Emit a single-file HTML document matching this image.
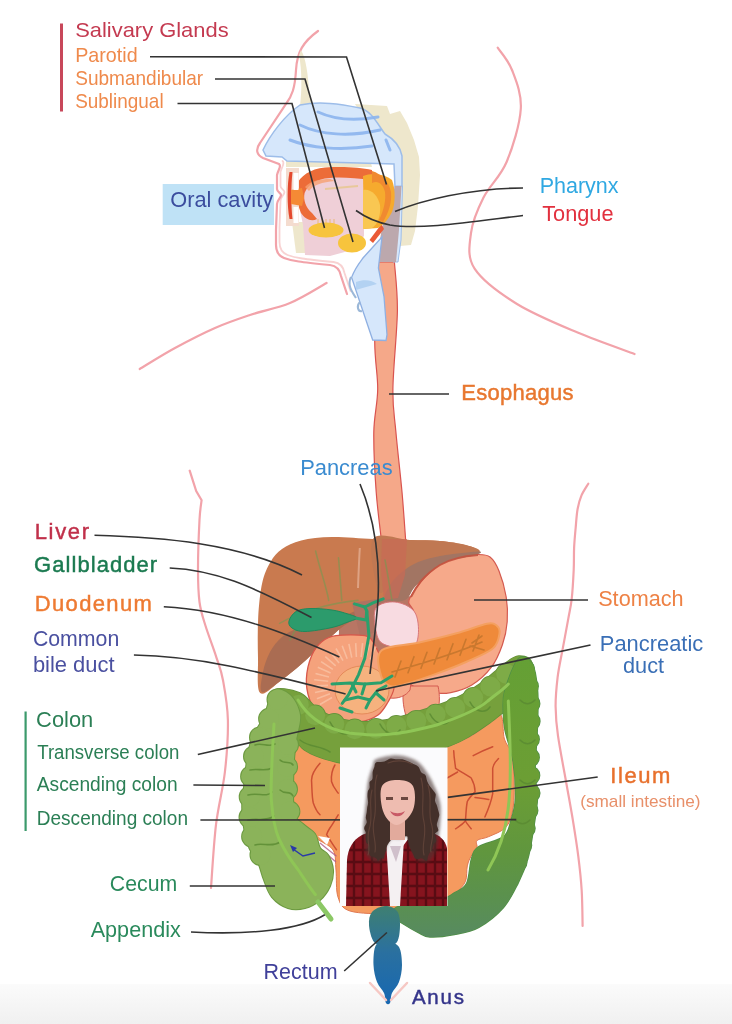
<!DOCTYPE html>
<html><head><meta charset="utf-8"><title>Digestive system</title>
<style>
html,body{margin:0;padding:0;background:#fff;width:732px;height:1024px;overflow:hidden}
svg{display:block;filter:blur(0.35px)}
text{font-family:"Liberation Sans",sans-serif}
</style></head>
<body>
<svg width="732" height="1024" viewBox="0 0 732 1024">
<defs>
<linearGradient id="bg" x1="0" y1="0" x2="0" y2="1">
<stop offset="0" stop-color="#fbfbfb"/><stop offset="1" stop-color="#f0f0f0"/>
</linearGradient>
<linearGradient id="rect" x1="0" y1="905" x2="0" y2="1000" gradientUnits="userSpaceOnUse">
<stop offset="0" stop-color="#3f8070"/><stop offset="0.5" stop-color="#2a70a0"/><stop offset="1" stop-color="#1868b0"/>
</linearGradient>
<linearGradient id="desc" x1="0" y1="650" x2="0" y2="940" gradientUnits="userSpaceOnUse">
<stop offset="0" stop-color="#64a035"/><stop offset="0.45" stop-color="#6c9e34"/><stop offset="0.7" stop-color="#60963e"/><stop offset="0.87" stop-color="#5a9050"/><stop offset="1" stop-color="#578a62"/>
</linearGradient>
<filter id="hb" x="-20%" y="-20%" width="140%" height="140%"><feGaussianBlur stdDeviation="1.6"/></filter>
</defs>
<rect x="0" y="0" width="732" height="1024" fill="#fff"/>
<rect x="0" y="984" width="732" height="40" fill="url(#bg)"/>
<g fill="none" stroke="#f2a3aa" stroke-width="2.2" stroke-linecap="round"><path  d="M497.7,47.7 C500.1,51.4 508.1,59.8 512.0,70.0 C515.9,80.2 521.7,93.5 520.8,108.8 C519.9,124.1 512.8,147.2 506.6,162.0 C500.4,176.8 489.4,185.8 483.5,197.6 C477.6,209.4 472.5,221.2 471.0,233.0 C469.5,244.8 466.9,256.9 474.6,268.7 C482.3,280.5 499.8,293.4 517.0,304.0 C534.2,314.6 558.0,324.3 577.6,332.6 C597.2,340.9 625.0,350.4 634.5,354.0"/><path  d="M189.7,470.7 C190.8,474.1 195.1,487.6 196.2,491.0 L201.6,500.2 C201.2,503.5 200.1,508.5 199.5,520.0 C198.9,531.5 198.0,555.3 198.0,569.0 C198.0,582.7 198.3,592.6 199.5,602.0 C200.7,611.4 202.6,616.4 205.4,625.5 C208.2,634.6 213.3,647.7 216.2,656.8 C219.1,665.9 221.1,669.7 223.0,680.2 C224.9,690.7 227.6,704.7 227.9,720.0 C228.2,735.3 226.9,754.5 224.9,772.0 C222.9,789.5 218.3,805.4 216.0,824.7 C213.7,844.0 211.8,877.5 211.0,888.0"/><path  d="M588.3,483.7 C587.2,485.6 583.3,491.2 581.5,495.4 C579.7,499.6 578.6,503.5 577.6,509.0 C576.6,514.5 576.2,522.0 575.6,528.5 C575.0,535.0 574.4,541.1 574.1,548.0 C573.8,554.9 574.1,561.5 573.7,570.0 C573.3,578.5 572.6,590.9 571.7,599.0 C570.8,607.1 569.8,610.1 568.3,618.6 C566.8,627.1 564.3,640.1 562.5,649.9 C560.7,659.7 558.8,667.8 557.6,677.3 C556.5,686.8 555.5,696.8 555.6,706.6 C555.7,716.4 556.1,722.8 558.0,735.9 C559.9,749.0 564.2,771.1 566.7,785.2 C569.2,799.3 571.0,808.7 572.9,820.4 C574.8,832.1 576.7,843.9 578.2,855.6 C579.7,867.3 581.0,879.1 581.7,890.8 C582.4,902.5 582.5,920.1 582.6,926.0"/><path  d="M326.6,283.0 C320.5,286.3 302.8,297.7 290.0,303.0 C277.2,308.3 262.5,310.8 250.0,315.0 C237.5,319.2 227.5,322.5 215.0,328.0 C202.5,333.5 187.6,341.2 175.0,348.0 C162.4,354.8 145.6,365.5 139.7,369.0"/></g>
<g id="head"><g fill="none" stroke-linecap="round"><path d="M279,164 C282,166 278,170 277,175 L277,189 C277,192 281,193 281,195 C281,198 277,200 277,204 L276,230 L276,245 C276,252 279,256 284,258 C292,261 300,262 330,265 C337,266 340,270 341,276 L347,294" stroke="#f8d2d2" stroke-width="1.8" transform="translate(3.5,-3)"/><path d="M318,31 C303,42 297,52 296,70 C295,88 292,96 286,104 L260,143 C255,150 257,155 263,158 L279,164 C282,166 278,170 277,175 L277,189 C277,192 281,193 281,195 C281,198 277,200 277,204 L276,230 L276,245 C276,252 279,256 284,258 C292,261 300,262 330,265 C337,266 340,270 341,276 L347,294" stroke="#f2a3aa" stroke-width="2.2"/></g><path fill="#eee7cc" d="M301,50 C306,58 308,75 309,90 L312,104 L300,106 C302,90 302,70 299,55 Z"/><path fill="#eee7cc" d="M355,104 L387,106 L390,114 L400,111 L407,123 L414,140 L419,157 L420,175 L418,206 L415,231 L411,245 L400,246 L398,200 L395,160 L380,130 L360,112 Z"/><path fill="#eee7cc" d="M286,159 L370,159 L372,167 L286,167 Z"/><path fill="#eee7cc" d="M292,222 L305,222 L306,253 L296,253 Z"/><path fill="#d6e7fb" stroke="#9dbde9" stroke-width="1.5" d="M263,150 C270,135 285,115 300,105 C320,101 340,104 360,108 C372,111 378,125 385,134 C392,138 400,145 402,156 L402,187 L395,187 L394,164 L287,161 L282,157 L266,156 Z"/><g fill="none" stroke="#8cb5ee" stroke-width="3" stroke-linecap="round" opacity="0.9"><path  d="M318,112 C335,120 355,121 378,117"/><path  d="M300,125 C320,135 350,137 380,130"/><path  d="M290,140 C310,148 340,151 372,146"/><path  d="M386,140 L390,150"/></g><path fill="#efcfd7" d="M300,180 C315,172 340,174 364,176 L364,236 L352,250 L330,256 L305,255 L303,225 L300,210 Z"/><path fill="#f5a889" stroke="#d9534f" stroke-width="1.2" d="M377.0,262.0 C376.6,275.2 374.6,319.8 374.7,341.0 C374.8,362.2 377.8,373.8 377.7,389.0 C377.6,404.2 374.1,414.8 373.8,432.0 C373.6,449.2 374.8,473.2 376.2,492.0 C377.6,510.8 381.0,536.2 382.0,545.0 L406.0,545.0 C405.3,536.2 403.7,510.8 402.0,492.0 C400.3,473.2 397.4,449.2 395.9,432.0 C394.4,414.8 392.6,409.2 392.9,389.0 C393.1,368.8 397.1,332.2 397.4,311.0 C397.6,289.8 394.9,270.2 394.4,262.0 Z"/><path fill="#d6e7fb" stroke="#9dbde9" stroke-width="1" d="M395,186 L402.5,186 L401,240 L398,262 L393,262 Z"/><path fill="#bca8ad" d="M395,186 L401.5,186 L399,230 L396,262 L377,262 L379,245 L382,228 L389,206 Z"/><path fill="#d6e7fb" stroke="#8fb0e2" stroke-width="1.3" d="M382,237 L378.4,268 L384,296.5 L387,334.7 L386,340.5 L372.7,340 L351.6,277.4 C355,268 360,262 363,258 Z"/><path fill="none" stroke="#9cb8d8" stroke-width="2" d="M351,277 C347,285 352,292 356,298 M360,302 C356,306 358,312 362,311"/><path fill="#b3d2f2" d="M356,282 C364,279 372,280 377,284 C370,286 362,288 356,290 Z"/><path fill="#ea5a36" d="M381.5,224 L384,229 L373,243 L369.5,240 Z"/><path fill="#ec6c38" d="M296,186 C300,176 310,169 325,167.5 C345,166.5 360,167.5 372,170 L372,180 C355,178 340,177 330,178 C315,179 308,185 304.6,193 C303,200 306,208 312,213 L317,219 C311,222 305,219 301,213 C297,204 295.5,195 296,186 Z"/><path fill="#f6a070" opacity="0.8" d="M305,187 C310,181 320,179 330,179 L335,181 C322,182 313,185 309,191 Z"/><path fill="#f6aa2e" d="M363,176 C372,172 385,174 392,180 C396,190 395,205 392,212 C388,220 383,225 378,228 L364,229 Z"/><path fill="#f9c752" d="M363,190 C370,188 378,195 380,205 C381,215 378,224 372,228 L363,229 Z"/><path fill="#f08a30" d="M372,171 C382,174 389,182 391,192 C392,202 389,212 383,222 L379,220 C384,210 386,200 385,192 C383,184 378,180 372,183 Z"/><path fill="#f4dccf" d="M286,168 L299,168 L299,226 L286,226 Z"/><path fill="#e4492e" d="M289.5,172 C287,185 287,205 289.5,219 L292.5,219 C291,205 291,185 292.5,172 Z"/><path fill="#f58a35" d="M291,190 L302,188 L304,198 L302,206 L291,204 Z"/><path fill="#fff" d="M293.5,173 L298.5,173 L298.5,190 L293.5,190 Z M293.5,207 L298.5,207 L298.5,223 L293.5,223 Z"/><path fill="none" stroke="#e9b87a" stroke-width="1" d="M318,219 L318,224 M322,219 L322,224 M326,219 L326,224 M330,219 L330,224 M334,219 L334,224"/><ellipse cx="326" cy="230" rx="17.5" ry="7.5" fill="#f7c43d"/><ellipse cx="352" cy="243" rx="14" ry="9.5" fill="#f7c43d"/><path fill="none" stroke="#e8c89a" stroke-width="2" d="M325,189 L358,186"/></g>
<g id="abdomen"><path fill="#b87664" d="M340,598 L418,596 L418,660 L338,662 Z"/><path fill="#f6a98a" stroke="#d45a50" stroke-width="1.2" d="M416.0,588.0 C418.1,585.2 420.1,582.3 423.3,579.0 C426.5,575.7 431.1,571.0 435.0,568.0 C438.9,565.0 442.5,562.9 447.0,561.0 C451.5,559.1 457.1,557.6 462.0,556.5 C466.9,555.4 471.9,554.4 476.6,554.5 C481.3,554.6 486.3,554.2 490.0,557.0 C493.7,559.8 496.3,564.3 499.0,571.0 C501.7,577.7 504.8,588.5 506.2,597.0 C507.6,605.5 507.8,613.8 507.2,621.8 C506.6,629.8 505.1,637.1 502.4,644.7 C499.7,652.4 496.1,661.0 491.0,667.7 C485.9,674.4 478.5,680.9 471.8,685.0 C465.1,689.1 457.2,691.3 450.8,692.6 C444.4,693.9 438.9,693.6 433.5,693.0 C428.1,692.4 422.9,691.2 418.2,689.0 C413.4,686.8 408.9,684.0 405.0,680.0 C401.1,676.0 397.2,670.0 395.0,665.0 C392.8,660.0 390.8,654.2 392.0,650.0 C393.2,645.8 398.3,643.7 402.0,640.0 C405.7,636.3 412.0,632.7 414.0,628.0 C416.0,623.3 414.9,616.2 414.0,612.0 C413.1,607.8 409.2,605.4 408.7,602.7 C408.2,600.0 409.8,598.5 411.0,596.0 C412.2,593.5 413.9,590.8 416.0,588.0Z"/><path fill="#f4a585" stroke="#d45a50" stroke-width="1" d="M404,686 L438,686 C440,695 440,705 437,714 L406,716 C403,706 402,696 404,686 Z"/><path fill="#c97a4f" d="M260.2,693.0 C256.4,689.2 258.3,670.6 258.0,658.0 C257.7,645.4 257.5,629.8 258.2,617.2 C258.9,604.6 260.2,591.6 262.3,582.4 C264.4,573.2 267.2,567.5 270.5,561.9 C273.8,556.3 276.9,552.6 282.0,549.0 C287.1,545.4 292.9,542.4 301.2,540.4 C309.5,538.4 320.0,537.2 332.0,537.0 C344.0,536.8 360.0,538.5 373.0,539.0 C386.0,539.5 398.8,539.7 410.0,540.0 C421.2,540.3 430.7,540.1 440.0,541.0 C449.3,541.9 459.4,543.6 466.0,545.3 C472.6,547.0 480.3,549.2 479.4,551.0 C478.4,552.8 467.3,553.8 460.3,556.0 C453.3,558.2 443.4,560.8 437.4,564.0 C431.3,567.2 428.1,571.0 424.0,575.0 C419.9,579.0 416.5,583.8 412.5,588.0 C408.5,592.2 407.1,596.0 400.0,600.0 C392.9,604.0 379.2,607.8 370.0,612.0 C360.8,616.2 353.0,619.5 345.0,625.0 C337.0,630.5 329.3,638.5 322.0,645.0 C314.7,651.5 308.1,658.3 301.2,664.3 C294.3,670.2 287.5,675.9 280.7,680.7 C273.9,685.5 264.0,696.8 260.2,693.0Z"/><path fill="#aa6c52" d="M262.0,692.0 C259.1,690.5 261.7,678.7 263.0,672.0 C264.3,665.3 266.8,657.8 270.0,652.0 C273.2,646.2 277.3,641.0 282.0,637.0 C286.7,633.0 291.7,630.5 298.0,628.0 C304.3,625.5 312.2,624.2 320.0,622.0 C327.8,619.8 336.7,617.8 345.0,615.0 C353.3,612.2 360.8,608.8 370.0,605.0 C379.2,601.2 391.0,597.0 400.0,592.0 C409.0,587.0 421.9,575.7 424.0,575.0 C426.1,574.3 416.5,583.8 412.5,588.0 C408.5,592.2 407.1,596.0 400.0,600.0 C392.9,604.0 379.2,607.8 370.0,612.0 C360.8,616.2 353.0,619.5 345.0,625.0 C337.0,630.5 329.3,638.5 322.0,645.0 C314.7,651.5 308.1,658.3 301.2,664.3 C294.3,670.2 287.2,676.1 280.7,680.7 C274.2,685.3 264.9,693.5 262.0,692.0Z"/><path fill="#c07852" d="M373.0,539.0 C378.3,530.7 398.8,539.7 410.0,540.0 C421.2,540.3 430.7,540.2 440.0,541.0 C449.3,541.8 459.3,543.2 466.0,545.0 C472.7,546.8 480.7,550.3 480.0,551.6 C479.3,552.9 468.7,552.3 462.0,553.0 C455.3,553.7 447.3,554.5 440.0,556.0 C432.7,557.5 424.3,559.3 418.0,562.0 C411.7,564.7 406.7,568.2 402.0,572.0 C397.3,575.8 394.0,582.0 390.0,585.0 C386.0,588.0 380.8,597.7 378.0,590.0 C375.2,582.3 367.7,547.3 373.0,539.0Z"/><path fill="#a27563" d="M480.0,551.6 C477.7,551.3 468.7,552.3 462.0,553.0 C455.3,553.7 447.3,554.5 440.0,556.0 C432.7,557.5 424.3,559.3 418.0,562.0 C411.7,564.7 406.7,568.2 402.0,572.0 C397.3,575.8 392.8,580.3 390.0,585.0 C387.2,589.7 382.5,597.5 385.0,600.0 C387.5,602.5 400.2,602.0 405.0,600.0 C409.8,598.0 411.0,591.5 414.0,588.0 C417.0,584.5 419.5,582.3 423.0,579.0 C426.5,575.7 430.5,571.1 435.0,568.0 C439.5,564.9 443.2,562.7 450.0,560.5 C456.8,558.3 471.0,556.5 476.0,555.0 C481.0,553.5 482.3,551.9 480.0,551.6Z"/><path fill="#c96a56" opacity="0.7" d="M382,539 L407,539 L405,575 L398,598 L384,600 L381,570 Z"/><path fill="none" stroke="#c4523e" stroke-width="2" opacity="0.9" d="M478,555 C465,556 450,559 440,565 C432,570 426,575 421,581 C417,586 414,591 411,597"/><g fill="none" stroke="#6f9c52" stroke-width="1.6" opacity="0.55" stroke-linecap="round"><path  d="M315.6,551 C320,570 326,585 328.7,600.4"/><path  d="M338.5,557.8 C340,575 341,590 341.8,600.4"/><path  d="M279.5,623.4 C300,612 330,603 358,600.4"/><path  d="M290,640 C295,630 300,622 306,615"/><path  d="M385,560 C388,575 390,590 392,600"/></g><path fill="none" stroke="#e4ac90" stroke-width="2" opacity="0.8" d="M359.8,548 C359,562 358.5,574 358,588"/><path fill="#b07262" d="M352,603 L383,598 L395,605 L378,632 L360,636 Z"/><path fill="#f8dbe1" stroke="#d9787a" stroke-width="1" d="M376.0,608.0 C379.2,603.2 388.6,601.4 395.0,602.0 C401.4,602.6 410.6,606.3 414.5,611.8 C418.4,617.3 418.9,628.8 418.3,634.8 C417.7,640.8 416.4,646.4 410.7,648.0 C405.0,649.6 389.8,647.1 384.0,644.3 C378.2,641.5 377.3,637.0 376.0,631.0 C374.7,625.0 372.8,612.8 376.0,608.0Z"/><path fill="#f6a98a" stroke="#d45a50" stroke-width="1" d="M378,676 L412,676 L410,690 C406,696 398,699 390,698 C384,696 380,690 378,684 Z"/><path fill="#f5a27c" stroke="#d8574a" stroke-width="1.3" d="M364.8,635.7 C358.6,634.7 343.2,634.7 336.0,635.7 C328.8,636.7 325.8,638.4 321.7,641.8 C317.6,645.2 314.1,649.9 311.5,656.0 C308.9,662.1 306.8,671.5 306.4,678.7 C306.0,685.9 307.5,693.2 309.4,699.0 C311.3,704.8 313.3,709.7 317.6,713.5 C321.9,717.3 327.9,720.6 335.0,722.0 C342.1,723.4 352.8,723.2 360.0,722.0 C367.2,720.8 373.3,718.3 378.0,715.0 C382.7,711.7 385.3,706.5 388.0,702.0 C390.7,697.5 393.3,693.3 394.0,688.0 C394.7,682.7 394.3,675.5 392.0,670.0 C389.7,664.5 383.2,659.7 380.0,655.0 C376.8,650.3 375.5,645.0 373.0,641.8 C370.5,638.6 371.0,636.7 364.8,635.7Z"/><path fill="none" stroke="#f9c3a5" stroke-width="1.6" opacity="0.8" d="M332.0,697.5 L319.9,704.5 M330.0,693.7 L316.9,698.7 M328.7,689.6 L315.0,692.5 M328.0,685.4 L314.1,686.1 M328.2,681.2 L314.2,679.7 M329.0,677.0 L315.5,673.4 M330.6,673.0 L317.8,667.3 M332.8,669.3 L321.1,661.7 M335.7,665.9 L325.3,656.6 M339.1,663.0 L330.3,652.1 M343.0,660.6 L336.0,648.5 M347.2,658.8 L342.2,645.7 M351.8,657.6 L348.9,643.9 M356.4,657.0 L355.7,643.1 M361.1,657.1 L362.6,643.2 M365.8,657.9 L369.4,644.4 M370.2,659.3 L375.9,646.5"/><ellipse cx="362" cy="690" rx="27" ry="24" fill="#f6b27e" stroke="#e58a5a" stroke-width="1"/><path fill="#ef8a3a" stroke="#f4a060" stroke-width="2" d="M382.0,650.0 C388.4,645.1 405.8,645.6 418.2,642.8 C430.6,640.0 445.0,636.5 456.5,633.3 C468.0,630.1 480.3,625.0 487.0,623.7 C493.7,622.4 494.6,624.0 496.7,625.6 C498.8,627.2 500.1,629.5 499.5,633.3 C498.9,637.1 498.4,643.8 492.8,648.6 C487.2,653.4 475.2,657.9 466.0,662.0 C456.8,666.1 446.9,669.9 437.4,673.4 C427.8,676.9 416.7,680.9 408.7,683.0 C400.7,685.1 394.4,687.8 389.6,686.0 C384.8,684.2 381.3,678.0 380.0,672.0 C378.7,666.0 375.6,654.9 382.0,650.0Z"/><path fill="none" stroke="#c4762e" stroke-width="1.6" opacity="0.9" stroke-linecap="round" d="M392,672 C420,664 450,656 482,642 M470,646 L484,650 M472,643 L482,636 M395.0,677.0 L401.0,661.0 M408.0,672.7 L414.0,656.7 M421.0,668.3 L427.0,652.3 M434.0,664.0 L440.0,648.0 M447.0,659.7 L453.0,643.7 M460.0,655.3 L466.0,639.3 M473.0,651.0 L479.0,635.0"/><path fill="#2c9b6c" stroke="#1f8a5c" stroke-width="1" d="M289.0,621.0 C289.7,618.2 292.5,613.6 296.0,611.5 C299.5,609.4 304.0,608.8 310.0,608.5 C316.0,608.2 325.7,609.1 332.0,610.0 C338.3,610.9 343.8,612.7 348.0,614.0 C352.2,615.3 357.0,616.7 357.0,618.0 C357.0,619.3 352.2,620.4 348.0,622.0 C343.8,623.6 339.2,625.9 332.0,627.5 C324.8,629.1 311.7,631.4 305.0,631.5 C298.3,631.6 294.7,629.8 292.0,628.0 C289.3,626.2 288.3,623.8 289.0,621.0Z"/><g fill="none" stroke="#2aa06c" stroke-width="3" stroke-linecap="round" stroke-linejoin="round"><path  d="M354.5,603.9 L364.8,607 L373,602.9 L383.2,598.8"/><path  d="M356.6,618.2 L366,620 L366.8,611 L364.8,607"/><path  d="M366.8,611 L368.9,635.7 L364.8,658.2 L358.6,674.6 L348.4,695 L342.2,703.3"/><path  d="M332,684 L350,683 L365,684 L381,682.8 L392,676"/><path  d="M345,700 L358,697 L370,700 L378,690 L386,686"/><path  d="M352,684 L356,692 M365,684 L362,694 M370,700 L366,708 M376,693 L384,700 M340,708 L352,712"/></g></g>
<g id="intestines"><path fill="#f59a5f" stroke="#e07850" stroke-width="1" d="M296.0,745.0 C302.8,742.7 322.0,753.5 334.0,756.0 C346.0,758.5 353.7,760.7 368.0,760.0 C382.3,759.3 406.8,754.5 420.0,752.0 C433.2,749.5 438.8,747.5 447.0,745.0 C455.2,742.5 462.3,740.6 469.3,737.0 C476.3,733.4 483.9,727.3 488.8,723.4 C493.7,719.5 496.2,714.4 498.5,713.7 C500.8,713.1 501.4,715.3 502.4,719.5 C503.4,723.7 502.8,733.1 504.4,739.0 C506.0,744.9 510.6,748.1 512.2,754.6 C513.8,761.1 513.9,769.2 514.1,778.0 C514.3,786.8 514.5,799.2 513.2,807.3 C511.9,815.4 510.4,821.9 506.3,826.8 C502.2,831.7 493.7,834.3 488.8,836.6 C483.9,838.9 479.0,838.5 477.0,840.5 C475.0,842.5 478.0,845.7 477.0,848.3 C476.0,850.9 472.8,853.1 471.2,856.0 C469.6,858.9 468.3,861.6 467.3,865.9 C466.3,870.1 467.3,877.0 465.4,881.5 C463.4,886.0 459.8,889.3 455.6,893.2 C451.4,897.1 445.9,901.9 440.0,905.0 C434.1,908.1 428.3,910.5 420.0,912.0 C411.7,913.5 401.7,914.2 390.0,914.0 C378.3,913.8 358.7,913.8 350.0,911.0 C341.3,908.2 340.3,903.8 338.0,897.0 C335.7,890.2 336.8,877.8 336.0,870.0 C335.2,862.2 336.3,855.3 333.0,850.0 C329.7,844.7 321.0,842.3 316.0,838.0 C311.0,833.7 307.0,828.4 303.2,824.0 C299.4,819.6 295.0,820.7 293.4,811.7 C291.8,802.7 293.0,781.1 293.4,770.0 C293.8,758.9 289.2,747.3 296.0,745.0Z"/><g fill="none" stroke="#c9472f" stroke-width="1.5" opacity="0.9" stroke-linecap="round" stroke-linejoin="round"><path  d="M320,763.3 C314,770 311,776 311.6,781.5 C312,790 312,798 313.3,803 C315,808 317,812 320,814.8"/><path  d="M334.9,765 C332,770 331,776 331.5,781.5 C333,787 336,790 338.2,793.2"/><path  d="M338.2,814.8 C335,820 332,825 329.9,828 C328,831 327,833 326.6,834.7 C330,840 333,845 336.5,849.7"/><path  d="M473.2,755.6 C480,752 487,749 492.7,746.8"/><path  d="M498.5,758.5 C495,762 493,765 492.7,768.3 L492.7,793.7 C491,803 488,810 484.9,817"/><path  d="M453.7,750.7 C454,758 455,763 455.6,768.3 C461,772 467,775 471.2,778 C474,783 475,787 475.1,791.7 C472,795 469,798 467.3,801.5 C466,808 466,815 465.4,821 C462,825 458,827 455.6,828.8"/><path  d="M465.4,821 C467,824 469,826 471.2,828.8"/><path  d="M447,778 C451,776 454,774 457.6,772"/><path  d="M475,797.6 C480,798 485,799 488.8,799.5"/></g><path fill="none" stroke="#b05a8a" stroke-width="1.3" opacity="0.8" d="M320,843 C326,848 331,852 336.5,856.3 M318,847 C325,852 330,857 336,862"/><path fill="#ffffff" d="M318,836 L330,838 L327,845 Z"/><g fill="#76a03c" stroke="#62903a" stroke-width="1.5"><path d="M273.9,691.0 C275.6,686.5 292.2,689.7 300.0,693.0 C307.8,696.3 312.0,706.3 320.5,711.0 C329.0,715.7 340.4,719.5 351.2,721.0 C362.0,722.5 374.0,721.7 385.4,720.0 C396.8,718.3 408.1,714.5 419.5,711.0 C430.9,707.5 443.4,703.7 453.7,699.0 C463.9,694.3 472.8,688.7 481.0,683.0 C489.2,677.3 496.7,669.5 503.0,665.0 C509.3,660.5 513.7,656.2 518.6,656.0 C523.5,655.8 530.3,656.4 532.2,663.7 C534.1,671.0 534.5,692.0 530.0,700.0 C525.5,708.0 511.4,707.9 505.0,711.5 C498.6,715.1 497.0,717.7 491.3,721.7 C485.6,725.7 477.6,731.4 470.8,735.4 C464.0,739.4 462.1,741.2 450.3,745.6 C438.5,750.0 413.7,758.9 400.0,762.0 C386.3,765.1 379.0,764.0 368.3,764.0 C357.6,764.0 347.1,764.7 336.0,762.0 C324.9,759.3 309.7,755.0 302.0,748.0 C294.3,741.0 294.7,729.5 290.0,720.0 C285.3,710.5 272.2,695.5 273.9,691.0Z"/><circle cx="280.4" cy="700.3" r="10"/><circle cx="298.8" cy="704.8" r="10"/><circle cx="315.2" cy="715.3" r="10"/><circle cx="334.3" cy="723.8" r="10"/><circle cx="354.7" cy="729.3" r="10"/><circle cx="376.0" cy="728.7" r="10"/><circle cx="396.4" cy="725.8" r="10"/><circle cx="416.3" cy="720.7" r="10"/><circle cx="435.6" cy="714.5" r="10"/><circle cx="455.1" cy="707.8" r="10"/><circle cx="473.2" cy="697.7" r="10"/><circle cx="490.4" cy="686.5" r="10"/><circle cx="506.2" cy="673.7" r="10"/></g><g fill="#76a03c"><path d="M273.9,691.0 C275.6,686.5 292.2,689.7 300.0,693.0 C307.8,696.3 312.0,706.3 320.5,711.0 C329.0,715.7 340.4,719.5 351.2,721.0 C362.0,722.5 374.0,721.7 385.4,720.0 C396.8,718.3 408.1,714.5 419.5,711.0 C430.9,707.5 443.4,703.7 453.7,699.0 C463.9,694.3 472.8,688.7 481.0,683.0 C489.2,677.3 496.7,669.5 503.0,665.0 C509.3,660.5 513.7,656.2 518.6,656.0 C523.5,655.8 530.3,656.4 532.2,663.7 C534.1,671.0 534.5,692.0 530.0,700.0 C525.5,708.0 511.4,707.9 505.0,711.5 C498.6,715.1 497.0,717.7 491.3,721.7 C485.6,725.7 477.6,731.4 470.8,735.4 C464.0,739.4 462.1,741.2 450.3,745.6 C438.5,750.0 413.7,758.9 400.0,762.0 C386.3,765.1 379.0,764.0 368.3,764.0 C357.6,764.0 347.1,764.7 336.0,762.0 C324.9,759.3 309.7,755.0 302.0,748.0 C294.3,741.0 294.7,729.5 290.0,720.0 C285.3,710.5 272.2,695.5 273.9,691.0Z"/></g><g fill="#7eab47"><circle cx="280.4" cy="700.3" r="10"/><circle cx="298.8" cy="704.8" r="10"/><circle cx="315.2" cy="715.3" r="10"/><circle cx="334.3" cy="723.8" r="10"/><circle cx="354.7" cy="729.3" r="10"/><circle cx="376.0" cy="728.7" r="10"/><circle cx="396.4" cy="725.8" r="10"/><circle cx="416.3" cy="720.7" r="10"/><circle cx="435.6" cy="714.5" r="10"/><circle cx="455.1" cy="707.8" r="10"/><circle cx="473.2" cy="697.7" r="10"/><circle cx="490.4" cy="686.5" r="10"/><circle cx="506.2" cy="673.7" r="10"/></g><g fill="url(#desc)" stroke="#4f8f45" stroke-width="1.5"><path d="M518.6,658.5 C523.1,654.1 529.1,658.5 532.2,663.7 C535.4,669.0 536.6,679.9 537.5,690.0 C538.4,700.1 537.9,710.5 537.5,724.4 C537.1,738.3 535.0,761.1 535.0,773.3 C535.0,785.5 537.9,787.6 537.5,797.8 C537.1,808.0 534.2,824.2 532.6,834.4 C531.0,844.6 530.2,850.6 527.8,858.8 C525.4,866.9 522.1,875.1 518.0,883.3 C513.9,891.4 509.8,900.4 503.3,907.7 C496.8,915.0 487.0,922.8 478.9,927.3 C470.8,931.8 462.5,933.0 454.4,934.6 C446.2,936.2 436.0,937.4 430.0,937.0 C424.0,936.6 422.9,934.7 418.4,932.5 C413.9,930.3 407.4,926.6 403.0,923.7 C398.6,920.8 392.5,918.0 392.0,915.0 C391.5,912.0 392.0,908.5 400.0,906.0 C408.0,903.5 430.9,902.2 440.0,900.0 C449.1,897.8 449.9,895.8 454.4,893.0 C458.8,890.2 463.8,889.0 466.7,883.3 C469.6,877.6 469.5,864.9 471.5,858.8 C473.5,852.7 473.6,850.2 478.9,846.6 C484.2,843.0 498.0,841.0 503.3,836.9 C508.6,832.8 508.6,828.5 510.6,822.0 C512.6,815.5 515.1,808.0 515.5,797.8 C515.9,787.6 514.8,772.3 513.0,761.0 C511.2,749.7 506.6,738.2 505.0,730.0 C503.4,721.8 503.3,718.2 503.3,711.5 C503.3,704.8 502.4,698.8 505.0,690.0 C507.6,681.2 514.1,662.9 518.6,658.5Z"/><circle cx="525.3" cy="669.1" r="9"/><circle cx="529.2" cy="686.3" r="9"/><circle cx="530.7" cy="703.7" r="9"/><circle cx="530.9" cy="721.3" r="9"/><circle cx="530.2" cy="739.3" r="9"/><circle cx="530.2" cy="757.5" r="9"/><circle cx="530.6" cy="775.5" r="9"/><circle cx="530.8" cy="793.1" r="9"/><circle cx="528.7" cy="810.6" r="9"/><circle cx="526.0" cy="828.2" r="9"/><circle cx="522.5" cy="845.5" r="9"/><circle cx="517.7" cy="862.7" r="9"/></g><g fill="url(#desc)"><path d="M518.6,658.5 C523.1,654.1 529.1,658.5 532.2,663.7 C535.4,669.0 536.6,679.9 537.5,690.0 C538.4,700.1 537.9,710.5 537.5,724.4 C537.1,738.3 535.0,761.1 535.0,773.3 C535.0,785.5 537.9,787.6 537.5,797.8 C537.1,808.0 534.2,824.2 532.6,834.4 C531.0,844.6 530.2,850.6 527.8,858.8 C525.4,866.9 522.1,875.1 518.0,883.3 C513.9,891.4 509.8,900.4 503.3,907.7 C496.8,915.0 487.0,922.8 478.9,927.3 C470.8,931.8 462.5,933.0 454.4,934.6 C446.2,936.2 436.0,937.4 430.0,937.0 C424.0,936.6 422.9,934.7 418.4,932.5 C413.9,930.3 407.4,926.6 403.0,923.7 C398.6,920.8 392.5,918.0 392.0,915.0 C391.5,912.0 392.0,908.5 400.0,906.0 C408.0,903.5 430.9,902.2 440.0,900.0 C449.1,897.8 449.9,895.8 454.4,893.0 C458.8,890.2 463.8,889.0 466.7,883.3 C469.6,877.6 469.5,864.9 471.5,858.8 C473.5,852.7 473.6,850.2 478.9,846.6 C484.2,843.0 498.0,841.0 503.3,836.9 C508.6,832.8 508.6,828.5 510.6,822.0 C512.6,815.5 515.1,808.0 515.5,797.8 C515.9,787.6 514.8,772.3 513.0,761.0 C511.2,749.7 506.6,738.2 505.0,730.0 C503.4,721.8 503.3,718.2 503.3,711.5 C503.3,704.8 502.4,698.8 505.0,690.0 C507.6,681.2 514.1,662.9 518.6,658.5Z"/><circle cx="525.3" cy="669.1" r="9"/><circle cx="529.2" cy="686.3" r="9"/><circle cx="530.7" cy="703.7" r="9"/><circle cx="530.9" cy="721.3" r="9"/><circle cx="530.2" cy="739.3" r="9"/><circle cx="530.2" cy="757.5" r="9"/><circle cx="530.6" cy="775.5" r="9"/><circle cx="530.8" cy="793.1" r="9"/><circle cx="528.7" cy="810.6" r="9"/><circle cx="526.0" cy="828.2" r="9"/><circle cx="522.5" cy="845.5" r="9"/><circle cx="517.7" cy="862.7" r="9"/></g><g fill="#8bb35a" stroke="#6c9a40" stroke-width="2"><path d="M273.9,691.0 C269.6,694.6 267.6,708.7 264.0,716.6 C260.4,724.5 254.8,731.2 252.0,738.5 C249.2,745.8 248.2,753.2 247.0,760.5 C245.8,767.8 245.4,774.7 244.6,782.4 C243.8,790.1 242.2,798.7 242.2,806.8 C242.2,814.9 243.4,824.3 244.6,831.2 C245.8,838.1 247.3,843.2 249.5,848.3 C251.7,853.4 255.6,856.7 258.0,862.0 C260.4,867.3 261.7,874.2 264.0,880.0 C266.3,885.8 268.0,892.3 272.0,897.0 C276.0,901.7 282.5,906.2 288.0,908.0 C293.5,909.8 299.7,909.3 305.0,908.0 C310.3,906.7 315.8,903.7 320.0,900.0 C324.2,896.3 327.8,891.0 330.0,886.0 C332.2,881.0 333.3,875.2 333.0,870.0 C332.7,864.8 330.2,858.7 328.0,855.0 C325.8,851.3 322.2,851.5 320.0,848.0 C317.8,844.5 317.8,838.0 315.0,834.0 C312.2,830.0 306.5,827.7 303.0,824.0 C299.5,820.3 295.6,821.0 294.0,812.0 C292.4,803.0 293.1,781.8 293.4,770.0 C293.7,758.2 294.9,750.2 296.0,741.0 C297.1,731.8 301.0,722.7 300.0,715.0 C299.0,707.3 294.4,699.0 290.0,695.0 C285.6,691.0 278.2,687.4 273.9,691.0Z"/><circle cx="277.5" cy="699.4" r="10"/><circle cx="269.1" cy="718.8" r="10"/><circle cx="260.0" cy="737.4" r="10"/><circle cx="254.0" cy="756.4" r="10"/><circle cx="251.1" cy="776.4" r="10"/><circle cx="249.7" cy="796.9" r="10"/><circle cx="249.5" cy="817.3" r="10"/><circle cx="252.1" cy="836.6" r="10"/><circle cx="260.5" cy="854.9" r="10"/><circle cx="288.0" cy="744.7" r="10"/><circle cx="287.1" cy="766.8" r="10"/><circle cx="287.0" cy="789.3" r="10"/><circle cx="289.4" cy="811.6" r="10"/></g><g fill="#8bb35a"><path d="M273.9,691.0 C269.6,694.6 267.6,708.7 264.0,716.6 C260.4,724.5 254.8,731.2 252.0,738.5 C249.2,745.8 248.2,753.2 247.0,760.5 C245.8,767.8 245.4,774.7 244.6,782.4 C243.8,790.1 242.2,798.7 242.2,806.8 C242.2,814.9 243.4,824.3 244.6,831.2 C245.8,838.1 247.3,843.2 249.5,848.3 C251.7,853.4 255.6,856.7 258.0,862.0 C260.4,867.3 261.7,874.2 264.0,880.0 C266.3,885.8 268.0,892.3 272.0,897.0 C276.0,901.7 282.5,906.2 288.0,908.0 C293.5,909.8 299.7,909.3 305.0,908.0 C310.3,906.7 315.8,903.7 320.0,900.0 C324.2,896.3 327.8,891.0 330.0,886.0 C332.2,881.0 333.3,875.2 333.0,870.0 C332.7,864.8 330.2,858.7 328.0,855.0 C325.8,851.3 322.2,851.5 320.0,848.0 C317.8,844.5 317.8,838.0 315.0,834.0 C312.2,830.0 306.5,827.7 303.0,824.0 C299.5,820.3 295.6,821.0 294.0,812.0 C292.4,803.0 293.1,781.8 293.4,770.0 C293.7,758.2 294.9,750.2 296.0,741.0 C297.1,731.8 301.0,722.7 300.0,715.0 C299.0,707.3 294.4,699.0 290.0,695.0 C285.6,691.0 278.2,687.4 273.9,691.0Z"/><circle cx="277.5" cy="699.4" r="10"/><circle cx="269.1" cy="718.8" r="10"/><circle cx="260.0" cy="737.4" r="10"/><circle cx="254.0" cy="756.4" r="10"/><circle cx="251.1" cy="776.4" r="10"/><circle cx="249.7" cy="796.9" r="10"/><circle cx="249.5" cy="817.3" r="10"/><circle cx="252.1" cy="836.6" r="10"/><circle cx="260.5" cy="854.9" r="10"/><circle cx="288.0" cy="744.7" r="10"/><circle cx="287.1" cy="766.8" r="10"/><circle cx="287.0" cy="789.3" r="10"/><circle cx="289.4" cy="811.6" r="10"/></g><g fill="none" stroke="#5a8a32" stroke-width="1.6" opacity="0.8" stroke-linecap="round"><path  d="M255,745 C262,742 268,748 275,744"/><path  d="M250,770 C258,768 265,772 272,768"/><path  d="M248,795 C258,792 266,798 272,792"/><path  d="M248,820 C258,818 266,822 274,816"/><path  d="M255,845 C262,842 272,848 280,842"/><path  d="M280,760 C285,765 290,760 293,765"/><path  d="M280,790 C285,795 290,790 293,796"/><path  d="M330,722 C335,732 345,737 350,732"/><path  d="M380,724 C385,734 395,737 400,730"/><path  d="M430,714 C435,724 445,727 450,720"/><path  d="M470,702 C475,712 485,714 490,707"/><path  d="M520,700 C525,705 530,705 535,700"/><path  d="M520,740 C525,745 530,745 535,740"/><path  d="M520,780 C525,785 530,785 535,780"/><path  d="M515,820 C520,825 525,825 530,820"/><path  d="M300,740 C310,748 320,745 330,752"/></g><g fill="none" stroke="#8fc656" stroke-width="3" stroke-linecap="round"><path  d="M274,724 C272,760 270,790 271.5,802 C273,820 276,832 278.8,838.5 C285,852 292,862 298.3,870 C305,880 310,888 315.4,894.6"/><path  d="M298,700 C305,712 318,725 340,731 C348,733 354,734 360,734 C385,737 410,732 436.6,725 C460,717 480,708 487.8,701 C495,695 503,690 508.3,684"/><path  d="M508.3,701 C510,740 512,780 508,810 C505,835 497,855 488,870"/></g><path fill="none" stroke="#8cc865" stroke-width="5" stroke-linecap="round" d="M318,902 L331,919"/><path fill="url(#rect)" d="M372.0,912.0 C374.7,908.8 380.8,906.2 385.0,906.0 C389.2,905.8 394.5,907.8 397.0,911.0 C399.5,914.2 400.0,919.8 400.0,925.0 C400.0,930.2 399.3,938.5 397.0,942.0 C394.7,945.5 389.8,946.0 386.0,946.0 C382.2,946.0 376.8,945.5 374.0,942.0 C371.2,938.5 369.3,930.0 369.0,925.0 C368.7,920.0 369.3,915.2 372.0,912.0Z"/><path fill="url(#rect)" d="M376.0,945.0 C378.4,941.2 384.2,941.7 388.0,942.0 C391.8,942.3 396.7,943.2 399.0,947.0 C401.3,950.8 402.0,959.2 402.0,965.0 C402.0,970.8 400.7,977.3 399.0,982.0 C397.3,986.7 393.5,989.5 392.0,993.0 C390.5,996.5 391.0,1001.3 390.0,1003.0 C389.0,1004.7 387.0,1004.7 386.0,1003.0 C385.0,1001.3 385.5,996.5 384.0,993.0 C382.5,989.5 378.8,986.7 377.0,982.0 C375.2,977.3 373.7,971.2 373.5,965.0 C373.3,958.8 373.6,948.8 376.0,945.0Z"/><g fill="none" stroke="#f6c8c4" stroke-width="2.5" stroke-linecap="round"><path  d="M370,983 L386,1000"/><path  d="M407,983 L391,1000"/></g><path fill="none" stroke="#2a3aa8" stroke-width="1.5" d="M293,849 L303,856 L315,853"/><path fill="#2a3aa8" d="M290,845 L297,848 L293,852 Z"/></g>
<g id="leaders" fill="none" stroke="#333" stroke-width="1.6"><path  d="M150,56.7 L346.5,57 L386.5,184.5"/><path  d="M215,79 L305,79 L353,242"/><path  d="M177.5,103.5 L292,103.5 L324.5,228"/><path  d="M395,211.5 C420,201 470,188 523,188"/><path  d="M356,210.5 C365,217 375,222 390,225 C420,230 470,222 523,215.5"/><path  d="M389,394 L449,394"/><path  d="M360,484 C375,520 380,560 378,600 C376,630 372,655 370,674"/><path  d="M94.5,535.3 C160,537 240,543 302,575"/><path  d="M169.7,568 C215,570 250,585 311.5,617.5"/><path  d="M163.8,606.8 C230,610 290,635 339.4,657"/><path  d="M133.9,655 C200,656 260,672 345.6,694"/><path  d="M474,600 L588,600"/><path  d="M376,691 L590.5,645"/><path  d="M197.8,754.5 L315,728"/><path  d="M193.4,785 L265,785.5"/><path  d="M200.4,820 L516.3,819.6"/><path  d="M447.6,797.4 L597.7,777"/><path  d="M189.8,886 L275,886"/><path  d="M191,932 C250,935 300,930 324.8,914.7"/><path  d="M344.2,971 L386.9,932.5"/></g>
<g id="photo">
<rect x="340" y="747.5" width="107.5" height="158.5" fill="#fbfbfd"/>
<clipPath id="jk"><path d="M346,906 L347,860 C348,848 353,840 362,835 L372,831 L388,845 L392,906 Z M447,906 L447,848 C445,840 440,835 430,832 L412,834 L400,850 L398,906 Z"/></clipPath>
<path fill="#86141e" d="M346,906 L347,860 C348,848 353,840 362,835 L372,831 L388,845 L392,906 Z"/>
<path fill="#86141e" d="M447,906 L447,848 C445,840 440,835 430,832 L412,834 L400,850 L398,906 Z"/>
<g stroke="#1e0306" stroke-width="2.4" opacity="0.42" clip-path="url(#jk)">
<path d="M340,850 L447,850 M340,862 L447,862 M340,874 L447,874 M340,886 L447,886 M340,898 L447,898"/>
<path d="M354,830 L354,906 M363,830 L363,906 M372,830 L372,906 M381,830 L381,906 M408,830 L408,906 M417,830 L417,906 M426,830 L426,906 M435,830 L435,906 M443,830 L443,906"/>
</g>
<path fill="#f4f0f2" d="M386,839 L404,839 L400,906 L390,906 Z"/>
<path fill="#b8a0b0" d="M390,846 L401,846 L396,862 Z" opacity="0.6"/>
<path fill="#4a3530" opacity="0.6" filter="url(#hb)" d="M376.1,759.2 C380.1,757.5 390.3,755.1 397.0,755.3 C403.7,755.6 411.2,757.8 416.2,760.7 C421.3,763.7 424.2,768.5 427.5,773.2 C430.7,777.9 433.4,783.6 435.6,788.8 C437.8,794.0 439.6,799.2 440.4,804.4 C441.2,809.6 440.7,814.8 440.4,820.0 C440.2,825.2 439.6,830.4 438.8,835.6 C438.0,840.9 437.4,847.1 435.6,851.4 C433.8,855.8 431.1,860.3 427.9,861.6 C424.7,863.0 419.0,861.6 416.1,859.5 C413.3,857.5 412.2,853.0 410.8,849.1 C409.4,845.3 409.4,838.4 407.6,836.7 C405.8,834.9 402.8,838.4 400.1,838.7 C397.4,839.1 393.8,837.4 391.5,838.7 C389.2,840.1 387.6,843.6 386.2,847.1 C384.7,850.5 384.9,857.1 383.0,859.5 C381.0,862.0 377.3,862.7 374.4,861.6 C371.5,860.6 367.4,856.3 365.8,853.3 C364.2,850.3 365.2,847.9 364.8,843.6 C364.3,839.4 363.2,833.1 363.2,827.9 C363.2,822.7 364.2,817.5 364.8,812.3 C365.3,807.1 365.8,801.9 366.4,796.7 C366.9,791.5 366.9,786.3 368.0,781.1 C369.1,775.9 371.5,769.1 372.9,765.4 C374.3,761.8 372.1,760.9 376.1,759.2Z"/>
<path fill="#44302a" d="M377.8,762.1 C379.2,761.9 382.3,762.1 384.4,761.5 C386.5,760.9 388.4,758.9 390.5,758.5 C392.6,758.1 395.0,759.2 397.1,759.3 C399.2,759.5 401.1,759.0 403.1,759.4 C405.1,759.8 407.1,760.9 409.0,761.7 C410.9,762.6 413.1,763.7 414.7,764.5 C416.3,765.4 417.5,765.6 418.6,767.0 C419.7,768.3 420.2,771.1 421.4,772.5 C422.5,773.9 424.5,773.7 425.5,775.2 C426.4,776.7 426.5,779.4 427.2,781.2 C427.9,783.1 428.7,784.6 429.7,786.1 C430.6,787.6 432.0,788.8 433.0,790.2 C434.0,791.6 435.3,792.6 435.7,794.3 C436.0,796.1 434.8,798.8 435.0,800.6 C435.2,802.5 436.2,803.8 436.8,805.3 C437.3,806.9 437.7,808.3 438.1,809.9 C438.6,811.5 439.3,813.1 439.3,814.8 C439.3,816.5 438.4,818.3 438.0,820.0 C437.6,821.7 436.8,823.2 436.8,824.9 C436.9,826.7 438.7,828.9 438.3,830.5 C438.0,832.0 435.0,832.7 434.7,834.4 C434.4,836.1 436.5,839.0 436.3,840.7 C436.1,842.4 434.3,843.2 433.6,844.7 C432.9,846.1 432.9,848.0 432.2,849.3 C431.6,850.6 430.6,851.3 429.9,852.5 C429.1,853.6 428.5,854.8 428.0,856.2 C427.4,857.6 427.7,860.6 426.6,860.9 C425.6,861.3 423.1,858.7 421.8,858.3 C420.4,858.0 419.9,858.9 418.8,858.9 C417.7,858.9 416.1,859.2 415.2,858.5 C414.3,857.7 413.7,855.4 413.2,854.2 C412.6,853.1 412.4,852.8 411.7,851.5 C411.1,850.2 410.0,848.0 409.4,846.5 C408.9,845.0 408.7,843.8 408.4,842.5 C408.1,841.3 407.8,840.0 407.6,839.0 C407.4,838.0 407.8,837.0 407.3,836.6 C406.8,836.1 405.4,836.4 404.6,836.4 C403.7,836.4 403.0,836.4 402.2,836.7 C401.4,837.0 400.8,838.1 400.0,838.3 C399.2,838.5 398.2,838.0 397.3,837.8 C396.5,837.7 395.8,837.1 394.8,837.3 C393.9,837.5 392.4,838.3 391.6,839.0 C390.8,839.7 390.5,840.8 390.1,841.3 C389.6,841.9 389.6,841.7 389.0,842.5 C388.5,843.3 387.4,845.0 386.9,846.2 C386.4,847.5 386.4,848.6 386.0,850.1 C385.6,851.6 384.9,853.8 384.5,855.3 C384.1,856.7 384.2,858.3 383.7,858.8 C383.2,859.2 382.6,857.6 381.6,858.0 C380.7,858.3 378.7,860.7 377.9,860.9 C377.1,861.0 377.4,859.4 376.7,858.8 C375.9,858.2 374.6,857.7 373.5,857.1 C372.4,856.5 370.9,856.4 370.1,855.4 C369.3,854.4 369.3,852.2 368.9,851.1 C368.5,850.0 367.7,849.9 367.7,848.9 C367.7,847.8 368.8,845.7 368.6,844.7 C368.4,843.8 367.0,844.2 366.5,843.1 C366.0,842.0 365.8,839.9 365.7,838.1 C365.5,836.4 366.0,834.4 365.8,832.7 C365.5,831.0 364.0,829.6 364.2,827.9 C364.3,826.2 366.4,824.3 366.7,822.5 C366.9,820.8 365.8,819.2 365.8,817.6 C365.8,815.9 366.4,814.2 366.7,812.5 C366.9,810.9 367.0,809.1 367.2,807.5 C367.5,805.9 368.1,804.4 368.1,802.7 C368.2,800.9 367.6,798.7 367.5,796.9 C367.4,795.0 367.5,793.1 367.8,791.5 C368.1,790.0 369.3,789.2 369.6,787.7 C369.9,786.1 369.2,783.6 369.6,782.1 C370.1,780.7 371.9,780.6 372.4,778.9 C372.9,777.2 372.4,773.9 372.7,771.9 C373.0,769.9 374.0,768.4 374.4,767.0 C374.7,765.7 374.6,764.6 374.9,763.9 C375.2,763.1 375.7,762.7 376.2,762.4 C376.7,762.1 376.4,762.3 377.8,762.1Z"/>
<g fill="none" stroke="#6b4a3e" stroke-width="1.1" opacity="0.7" stroke-linecap="round">
<path d="M372,790 C368,805 374,815 369,830 C366,840 371,848 368,855"/>
<path d="M377,775 C372,790 378,805 374,820 C371,832 377,842 375,852"/>
<path d="M428,785 C433,800 427,812 432,826 C435,838 429,846 431,852"/>
<path d="M421,778 C426,795 420,808 424,822 C427,836 421,845 424,855"/>
<path d="M388,763 C395,760 405,760 412,764"/>
</g>
<rect x="390" y="818" width="15" height="22" fill="#e2aa9c"/>
<path fill="#eebcb0" d="M380.6,797.0 C380.4,792.8 380.6,788.7 382.0,786.0 C383.4,783.3 386.5,782.0 389.0,781.0 C391.5,780.0 394.2,780.0 397.0,780.0 C399.8,780.0 403.3,780.0 406.0,781.0 C408.7,782.0 411.5,783.2 413.0,786.0 C414.5,788.8 415.0,793.6 415.0,797.6 C415.0,801.6 414.5,806.3 413.0,810.0 C411.5,813.7 408.7,817.5 406.0,820.0 C403.3,822.5 399.8,824.8 397.0,825.0 C394.2,825.2 391.3,823.3 389.0,821.0 C386.7,818.7 384.4,815.0 383.0,811.0 C381.6,807.0 380.8,801.2 380.6,797.0Z"/>
<path fill="#4a2a24" d="M386,797 h7 v3 h-7z M401,797 h7 v3 h-7z" opacity="0.8"/>
<path fill="#c85a66" d="M390,811 C395,814 400,814 405,811 C402,818 393,818 390,811 Z"/>
</g>
<g id="labels"><rect x="162.7" y="184" width="111.3" height="41" fill="#bfe2f6"/>
<text x="75.2" y="37" font-size="21" fill="#c43a50" textLength="153.4" lengthAdjust="spacingAndGlyphs">Salivary Glands</text>
<text x="75.2" y="62" font-size="19.8" fill="#ef8a4c" textLength="62.4" lengthAdjust="spacingAndGlyphs">Parotid</text>
<text x="75.2" y="85" font-size="19.8" fill="#ef8a4c" textLength="128.0" lengthAdjust="spacingAndGlyphs">Submandibular</text>
<text x="75.2" y="108" font-size="19.8" fill="#ef8a4c" textLength="88.4" lengthAdjust="spacingAndGlyphs">Sublingual</text>
<text x="170.2" y="207.3" font-size="21.5" fill="#3b4d9e" textLength="102.9" lengthAdjust="spacingAndGlyphs">Oral cavity</text>
<text x="539.7" y="193" font-size="21.5" fill="#2fa8e2" textLength="78.9" lengthAdjust="spacingAndGlyphs">Pharynx</text>
<text x="542.2" y="221.4" font-size="21.5" fill="#e2303e" textLength="71.4" lengthAdjust="spacingAndGlyphs">Tongue</text>
<text x="461.2" y="400" font-size="22" fill="#e8772f" stroke="#e8772f" stroke-width="0.45" textLength="112.4" lengthAdjust="spacing">Esophagus</text>
<text x="300.2" y="475" font-size="21.5" fill="#3a8bd0" textLength="92.4" lengthAdjust="spacingAndGlyphs">Pancreas</text>
<text x="34.7" y="538.6" font-size="22" fill="#c0304a" stroke="#c0304a" stroke-width="0.45" textLength="54.4" lengthAdjust="spacing">Liver</text>
<text x="34.0" y="572.3" font-size="22" fill="#1b7a50" stroke="#1b7a50" stroke-width="0.45" textLength="123.2" lengthAdjust="spacing">Gallbladder</text>
<text x="34.7" y="610.5" font-size="22" fill="#ee7a32" stroke="#ee7a32" stroke-width="0.45" textLength="117.2" lengthAdjust="spacing">Duodenum</text>
<text x="32.9" y="645.8" font-size="21.5" fill="#4a50a0" textLength="86.4" lengthAdjust="spacingAndGlyphs">Common</text>
<text x="32.9" y="672" font-size="21.5" fill="#4a50a0" textLength="81.7" lengthAdjust="spacingAndGlyphs">bile duct</text>
<text x="598.2" y="606" font-size="21.5" fill="#ee8245" textLength="85.4" lengthAdjust="spacingAndGlyphs">Stomach</text>
<text x="599.8" y="651" font-size="21.5" fill="#3a6fb6" textLength="103.4" lengthAdjust="spacingAndGlyphs">Pancreatic</text>
<text x="623.0" y="673" font-size="21.5" fill="#3a6fb6" textLength="41.0" lengthAdjust="spacingAndGlyphs">duct</text>
<text x="36.1" y="727.3" font-size="21.5" fill="#2b7f55" textLength="57.2" lengthAdjust="spacingAndGlyphs">Colon</text>
<text x="37.2" y="759.2" font-size="20" fill="#2b7f55" textLength="142.2" lengthAdjust="spacingAndGlyphs">Transverse colon</text>
<text x="36.8" y="790.8" font-size="20" fill="#2b7f55" textLength="140.8" lengthAdjust="spacingAndGlyphs">Ascending colon</text>
<text x="36.8" y="824.6" font-size="20" fill="#2b7f55" textLength="151.2" lengthAdjust="spacingAndGlyphs">Descending colon</text>
<text x="109.8" y="891.4" font-size="21.5" fill="#2a8a5c" textLength="67.4" lengthAdjust="spacingAndGlyphs">Cecum</text>
<text x="90.7" y="936.5" font-size="21.5" fill="#2a8a5c" textLength="90.1" lengthAdjust="spacingAndGlyphs">Appendix</text>
<text x="263.6" y="979.4" font-size="21.5" fill="#40409a" textLength="74.0" lengthAdjust="spacingAndGlyphs">Rectum</text>
<text x="411.9" y="1004.2" font-size="20.5" fill="#34348a" stroke="#34348a" stroke-width="0.45" textLength="52.1" lengthAdjust="spacing">Anus</text>
<text x="610.2" y="782.7" font-size="22" fill="#e8702c" stroke="#e8702c" stroke-width="0.45" textLength="60.2" lengthAdjust="spacing">Ileum</text>
<text x="580.2" y="806.6" font-size="17" fill="#e8906a" textLength="120.4" lengthAdjust="spacingAndGlyphs">(small intestine)</text>
<rect x="60" y="23.5" width="3" height="88" fill="#c8475a"/>
<rect x="24.5" y="711.5" width="2.2" height="119.5" fill="#3c9a6c"/></g>
</svg>
</body></html>
